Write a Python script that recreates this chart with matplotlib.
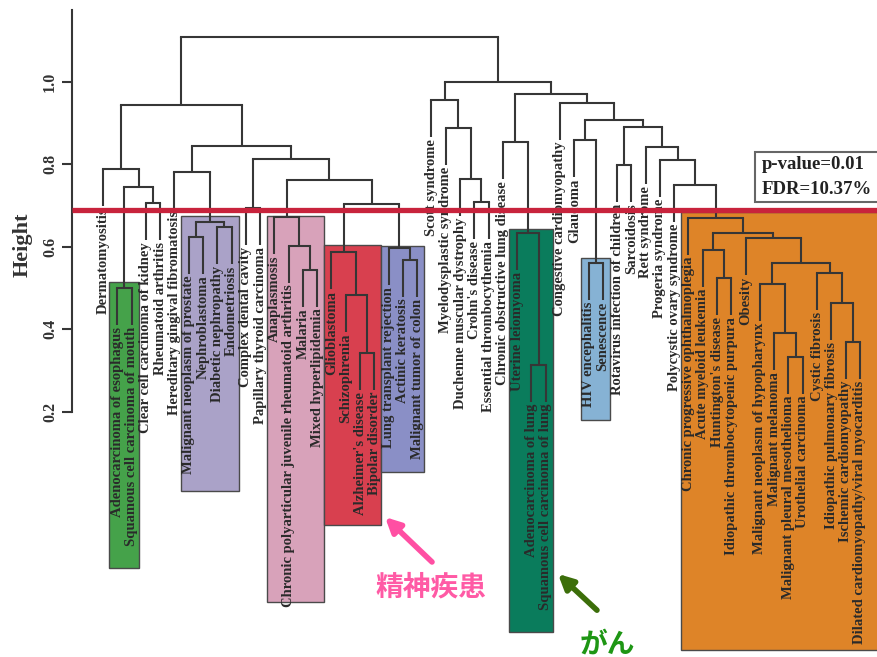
import matplotlib
matplotlib.use("Agg")
import matplotlib.pyplot as plt
from matplotlib.patches import Rectangle

plt.rcParams['font.family'] = ['Liberation Serif', 'Noto Sans CJK JP', 'DejaVu Sans']

# ---------------- data ----------------
leaf_labels = [
    "Dermatomyositis", "Adenocarcinoma of esophagus", "Squamous cell carcinoma of mouth",
    "Clear cell carcinoma of kidney", "Rheumatoid arthritis", "Hereditary gingival fibromatosis",
    "Malignant neoplasm of prostate", "Nephroblastoma", "Diabetic nephropathy", "Endometriosis",
    "Complex dental cavity", "Papillary thyroid carcinoma", "Anaplasmosis",
    "Chronic polyarticular juvenile rheumatoid arthritis", "Malaria", "Mixed hyperlipidemia",
    "Glioblastoma", "Schizophrenia", "Alzheimer's disease", "Bipolar disorder",
    "Lung transplant rejection", "Actinic keratosis", "Malignant tumor of colon",
    "Scott syndrome", "Myelodysplastic syndrome", "Duchenne muscular dystrophy",
    "Crohn's disease", "Essential thrombocythemia", "Chronic obstructive lung disease",
    "Uterine leiomyoma", "Adenocarcinoma of lung", "Squamous cell carcinoma of lung",
    "Congestive cardiomyopathy", "Glaucoma", "HIV encephalitis", "Senescence",
    "Rotavirus infection of children", "Sarcoidosis", "Rett syndrome", "Progeria syndrome",
    "Polycystic ovary syndrome", "Chronic progressive ophthalmoplegia", "Acute myeloid leukemia",
    "Huntington's disease", "Idiopathic thrombocytopenic purpura", "Obesity",
    "Malignant neoplasm of hypopharynx", "Malignant melanoma", "Malignant pleural mesothelioma",
    "Urothelial carcinoma", "Cystic fibrosis", "Idiopathic pulmonary fibrosis",
    "Ischemic cardiomyopathy", "Dilated cardiomyopathy/viral myocarditis",
]

# merges: (name, left child, right child, height); ints are leaf indices
merges = [
    ("esoph", 1, 2, 0.500), ("ccrk", 3, 4, 0.706), ("L1a", "esoph", "ccrk", 0.745),
    ("L1", 0, "L1a", 0.789),
    ("pp", 6, 7, 0.624), ("de", 8, 9, 0.648), ("purple", "pp", "de", 0.660),
    ("L2a", 5, "purple", 0.782),
    ("cp", 10, 11, 0.694),
    ("mm", 14, 15, 0.544), ("pk2", 13, "mm", 0.602), ("pink", 12, "pk2", 0.672),
    ("ab", 18, 19, 0.342), ("rd2", 17, "ab", 0.483), ("red", 16, "rd2", 0.587),
    ("bl2", 21, 22, 0.568), ("blue", 20, "bl2", 0.597),
    ("C", "red", "blue", 0.704), ("B", "pink", "C", 0.762), ("L2b", "cp", "B", 0.813),
    ("L2", "L2a", "L2b", 0.845), ("L", "L1", "L2", 0.944),
    ("ce", 26, 27, 0.709), ("R1b", 25, "ce", 0.765), ("R1a", 24, "R1b", 0.888),
    ("R1", 23, "R1a", 0.956),
    ("lung", 30, 31, 0.313), ("gl2", 29, "lung", 0.633), ("R2a", 28, "gl2", 0.854),
    ("lb", 34, 35, 0.561), ("glb", 33, "lb", 0.859), ("rs", 36, 37, 0.799),
    ("O1a2", 43, 44, 0.524), ("O1a", 42, "O1a2", 0.592),
    ("O3a3", 48, 49, 0.333), ("O3a2", 47, "O3a3", 0.391), ("O3a", 46, "O3a2", 0.510),
    ("O3b3", 52, 53, 0.369), ("O3b2", 51, "O3b3", 0.464), ("O3b", 50, "O3b2", 0.536),
    ("O3", "O3a", "O3b", 0.561), ("O2", 45, "O3", 0.621), ("O1", "O1a", "O2", 0.633),
    ("orange", 41, "O1", 0.670), ("R2g", 40, "orange", 0.750), ("R2f", 39, "R2g", 0.811),
    ("R2e", 38, "R2f", 0.842), ("R2d", "rs", "R2e", 0.891), ("R2c", "glb", "R2d", 0.908),
    ("R2b", 32, "R2c", 0.949), ("R2", "R2a", "R2b", 0.971), ("R", "R1", "R2", 1.000),
    ("root", "L", "R", 1.109),
]

cut_height = 0.69
y_ticks = [0.2, 0.4, 0.6, 0.8, 1.0]
stats_lines = ["p-value=0.01", "FDR=10.37%"]

# highlighted clusters
box_first = [1, 6, 12, 16, 20, 29, 34, 41]
box_last = [2, 9, 15, 19, 22, 31, 35, 53]
box_top = [0.515, 0.675, 0.675, 0.604, 0.602, 0.643, 0.573, 0.684]
box_bottom = [-0.180, 0.007, -0.262, -0.075, 0.053, -0.335, 0.180, -0.379]
box_colors = ["#45a24a", "#aaa2c8", "#d8a2ba", "#d8404f", "#8a8fc6", "#0a7c5c", "#86b2d4", "#de8428"]

annot_text = ["精神疾患", "がん"]

# ---------------- figure ----------------
fig = plt.figure(figsize=(8.77, 6.57), dpi=100)
ax = fig.add_axes([0, 0, 1, 1])
xmin, xmax = -7.213, 54.2
ax.set_xlim(xmin, xmax)
ax.set_ylim(-0.3956, 1.199)

hang = 0.09
line_color = "#363636"
lw = 1.5

pos = {}
top = {}
for i in range(len(leaf_labels)):
    pos[i] = float(i)

for name, a, b, h in merges:
    xa, xb = pos[a], pos[b]
    for c, xc in ((a, xa), (b, xb)):
        if isinstance(c, int):
            yb = h - hang
            ax.text(xc, yb - 0.004, leaf_labels[c], rotation=90, ha='center', va='top',
                    fontsize=10.5, fontweight='bold', color='#2a2a2a', zorder=3)
        else:
            yb = top[c]
        ax.plot([xc, xc], [yb, h], color=line_color, lw=lw, zorder=2, solid_capstyle='butt')
    ax.plot([xa, xb], [h, h], color=line_color, lw=lw, zorder=2, solid_capstyle='projecting')
    pos[name] = (xa + xb) / 2
    top[name] = h

# boxes
for f, l, t, btm, col in zip(box_first, box_last, box_top, box_bottom, box_colors):
    left = f - 0.55
    right = l + 0.5 if l < len(leaf_labels) - 1 else xmax + 1
    ax.add_patch(Rectangle((left, btm), right - left, t - btm, facecolor=col,
                           edgecolor='#4a4a4a', lw=1.0, zorder=1))

# cut line
spine_x = -2.171
ax.plot([spine_x, xmax], [cut_height, cut_height], color='#c8233c', lw=3.8, zorder=4,
        solid_capstyle='butt')

# y axis
for s in ['top', 'right', 'bottom']:
    ax.spines[s].set_visible(False)
ax.spines['left'].set_position(('data', spine_x))
ax.spines['left'].set_bounds(0.2, 1.175)
ax.spines['left'].set_linewidth(1.5)
ax.spines['left'].set_color('#363636')
ax.set_xticks([])
ax.set_yticks(y_ticks)
ax.set_yticklabels([f"{v:.1f}" for v in y_ticks])
ax.tick_params(axis='y', labelrotation=90, length=7, width=1.5, color='#363636',
               labelsize=11.5, pad=3, labelcolor='#333333')
for lab in ax.get_yticklabels():
    lab.set_va('center')
    lab.set_fontweight('bold')
ax.set_ylabel("Height", fontsize=16, fontweight='bold', color='#333333')
ax.yaxis.set_label_coords(0.037, 0.627)

# stats box
ax.add_patch(Rectangle((45.66, 0.709), 20, 0.121, facecolor='white', edgecolor='#666666',
                       lw=1.5, zorder=5))
ax.text(46.15, 0.799, stats_lines[0], fontsize=13.5, fontweight='bold', va='center', ha='left',
        color='#222222', zorder=6)
ax.text(46.15, 0.738, stats_lines[1], fontsize=13.5, fontweight='bold', va='center', ha='left',
        color='#222222', zorder=6)

# annotations
ax.annotate("", xy=(19.75, -0.056), xytext=(23.04, -0.165),
            arrowprops=dict(arrowstyle='-|>', color='#ff4fa3', lw=4, mutation_scale=22,
                            shrinkA=0, shrinkB=0), zorder=6)
ax.text(23.0, -0.228, annot_text[0], fontsize=20, fontweight='bold', color='#ff5aa5',
        ha='center', va='center', family=['Noto Sans CJK JP', 'DejaVu Sans'], zorder=6)
ax.annotate("", xy=(31.86, -0.194), xytext=(34.59, -0.282),
            arrowprops=dict(arrowstyle='-|>', color='#3c6e0a', lw=4, mutation_scale=22,
                            shrinkA=0, shrinkB=0), zorder=6)
ax.text(35.3, -0.365, annot_text[1], fontsize=20, fontweight='bold', color='#1e9614',
        ha='center', va='center', family=['Noto Sans CJK JP', 'DejaVu Sans'], zorder=6)

fig.savefig("out.png", dpi=100, facecolor='white')
